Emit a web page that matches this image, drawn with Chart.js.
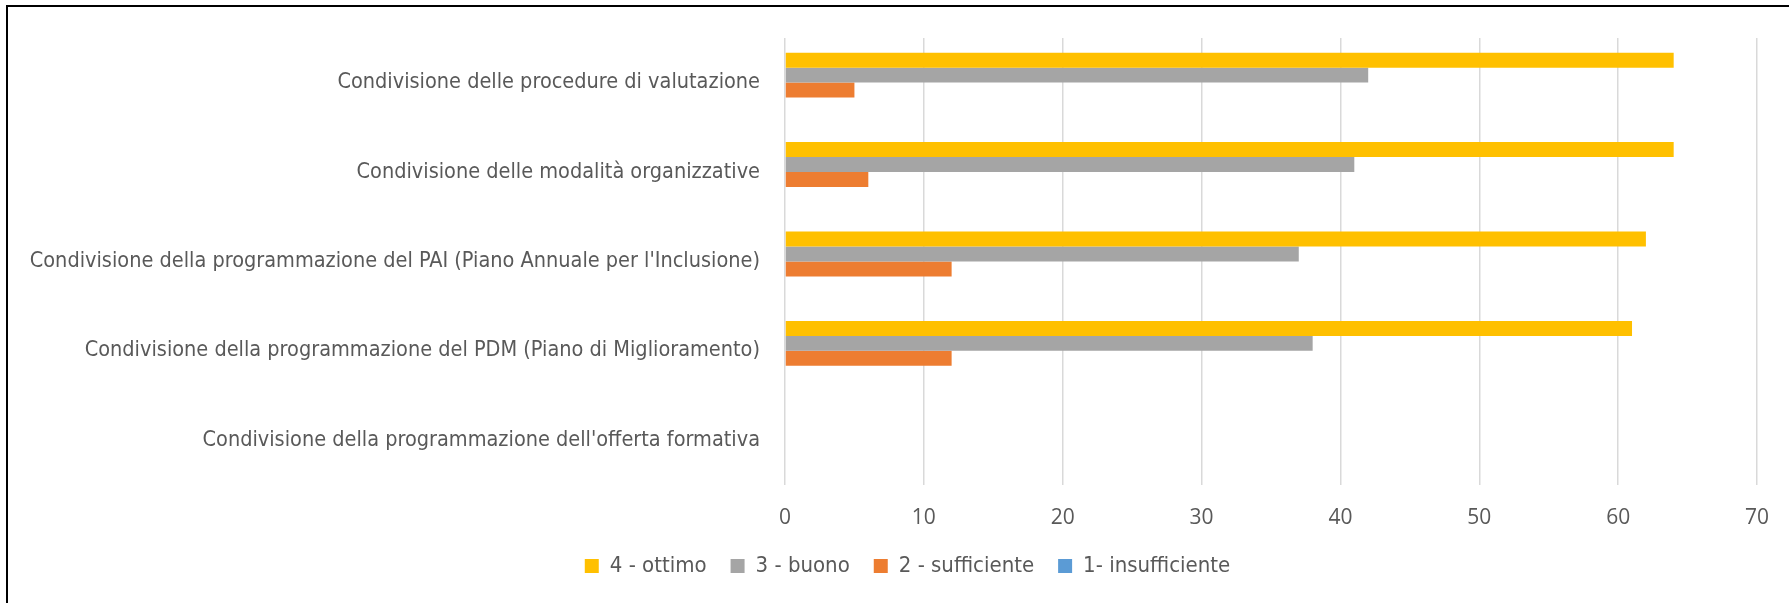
<!DOCTYPE html>
<html lang="it">
<head>
<meta charset="utf-8">
<title>Condivisione</title>
<script src="https://cdn.jsdelivr.net/npm/chart.js@4.4.1/dist/chart.umd.min.js"></script>
<style>
    html, body { margin: 0; padding: 0; background: #ffffff; }
    #wrap { position: relative; width: 1789px; height: 603px; overflow: hidden; }
    #frame {
        position: absolute; left: 6px; top: 5px; right: -10px; bottom: -10px;
        border-left: 2px solid #000000; border-top: 2px solid #000000;
        pointer-events: none;
    }
</style>
</head>
<body>
<div id="wrap">
    <canvas id="survey-chart"></canvas>
    <div id="frame"></div>
</div>
<script>
// Data

const categories = [
    'Condivisione delle procedure di valutazione',
    'Condivisione delle modalità organizzative',
    "Condivisione della programmazione del PAI (Piano Annuale per l'Inclusione)",
    'Condivisione della programmazione del PDM (Piano di Miglioramento)',
    "Condivisione della programmazione dell'offerta formativa"
];

const ottimo = [64, 64, 62, 61, 0];
const buono = [42, 41, 37, 38, 0];
const sufficiente = [5, 6, 12, 12, 0];
const insufficiente = [0, 0, 0, 0, 0];

const xTicks = [0, 10, 20, 30, 40, 50, 60, 70];

// Chart

const labelFont = "'Liberation Sans Narrow', 'DejaVu Sans Condensed', 'Open Sans', sans-serif";
const textColor = '#595959';

// Nudge the legend to the right so it sits centred under the whole picture
const legendShift = {
    id: 'legendShift',
    afterLayout: chart => {
        if (chart.legend) {
            chart.legend.left += 24;
            chart.legend.right += 24;
        }
    }
};

const ctx = document.getElementById('survey-chart').getContext('2d');
const surveyChart = new Chart(ctx, {
    type: 'bar',
    data: {
        labels: categories,
        datasets: [
            { label: '4 - ottimo', data: ottimo, backgroundColor: '#FFC000' },
            { label: '3 - buono', data: buono, backgroundColor: '#A5A5A5' },
            { label: '2 - sufficiente', data: sufficiente, backgroundColor: '#ED7D31' },
            { label: '1- insufficiente', data: insufficiente, backgroundColor: '#5B9BD5' }
        ]
    },
    plugins: [legendShift],
    options: {
        indexAxis: 'y',
        responsive: true,
        maintainAspectRatio: false,
        animation: false,
        datasets: {
            bar: { categoryPercentage: 0.67, barPercentage: 1.0, borderWidth: 0 }
        },
        layout: {
            padding: { left: 8, right: 30, top: 35, bottom: 16 }
        },
        scales: {
            x: {
                min: 0,
                max: 70,
                afterBuildTicks: axis => {
                    axis.ticks = xTicks.map(v => ({ value: v }));
                },
                afterFit: axis => { axis.height = 46; },
                grid: { color: '#D9D9D9', lineWidth: 1.5, drawTicks: false },
                border: { display: false },
                ticks: {
                    padding: 20,
                    color: textColor,
                    font: { family: "'Open Sans', sans-serif", size: 21 }
                }
            },
            y: {
                afterFit: axis => { axis.width = 777; },
                grid: { display: false, drawTicks: false },
                border: { display: false },
                ticks: {
                    padding: 25,
                    color: textColor,
                    font: { family: labelFont, size: 21.5 }
                }
            }
        },
        plugins: {
            legend: {
                position: 'bottom',
                labels: {
                    boxWidth: 14,
                    boxHeight: 14,
                    padding: 24,
                    color: textColor,
                    font: { family: labelFont, size: 22 }
                }
            },
            tooltip: { enabled: false }
        }
    }
});
</script>
</body>
</html>
